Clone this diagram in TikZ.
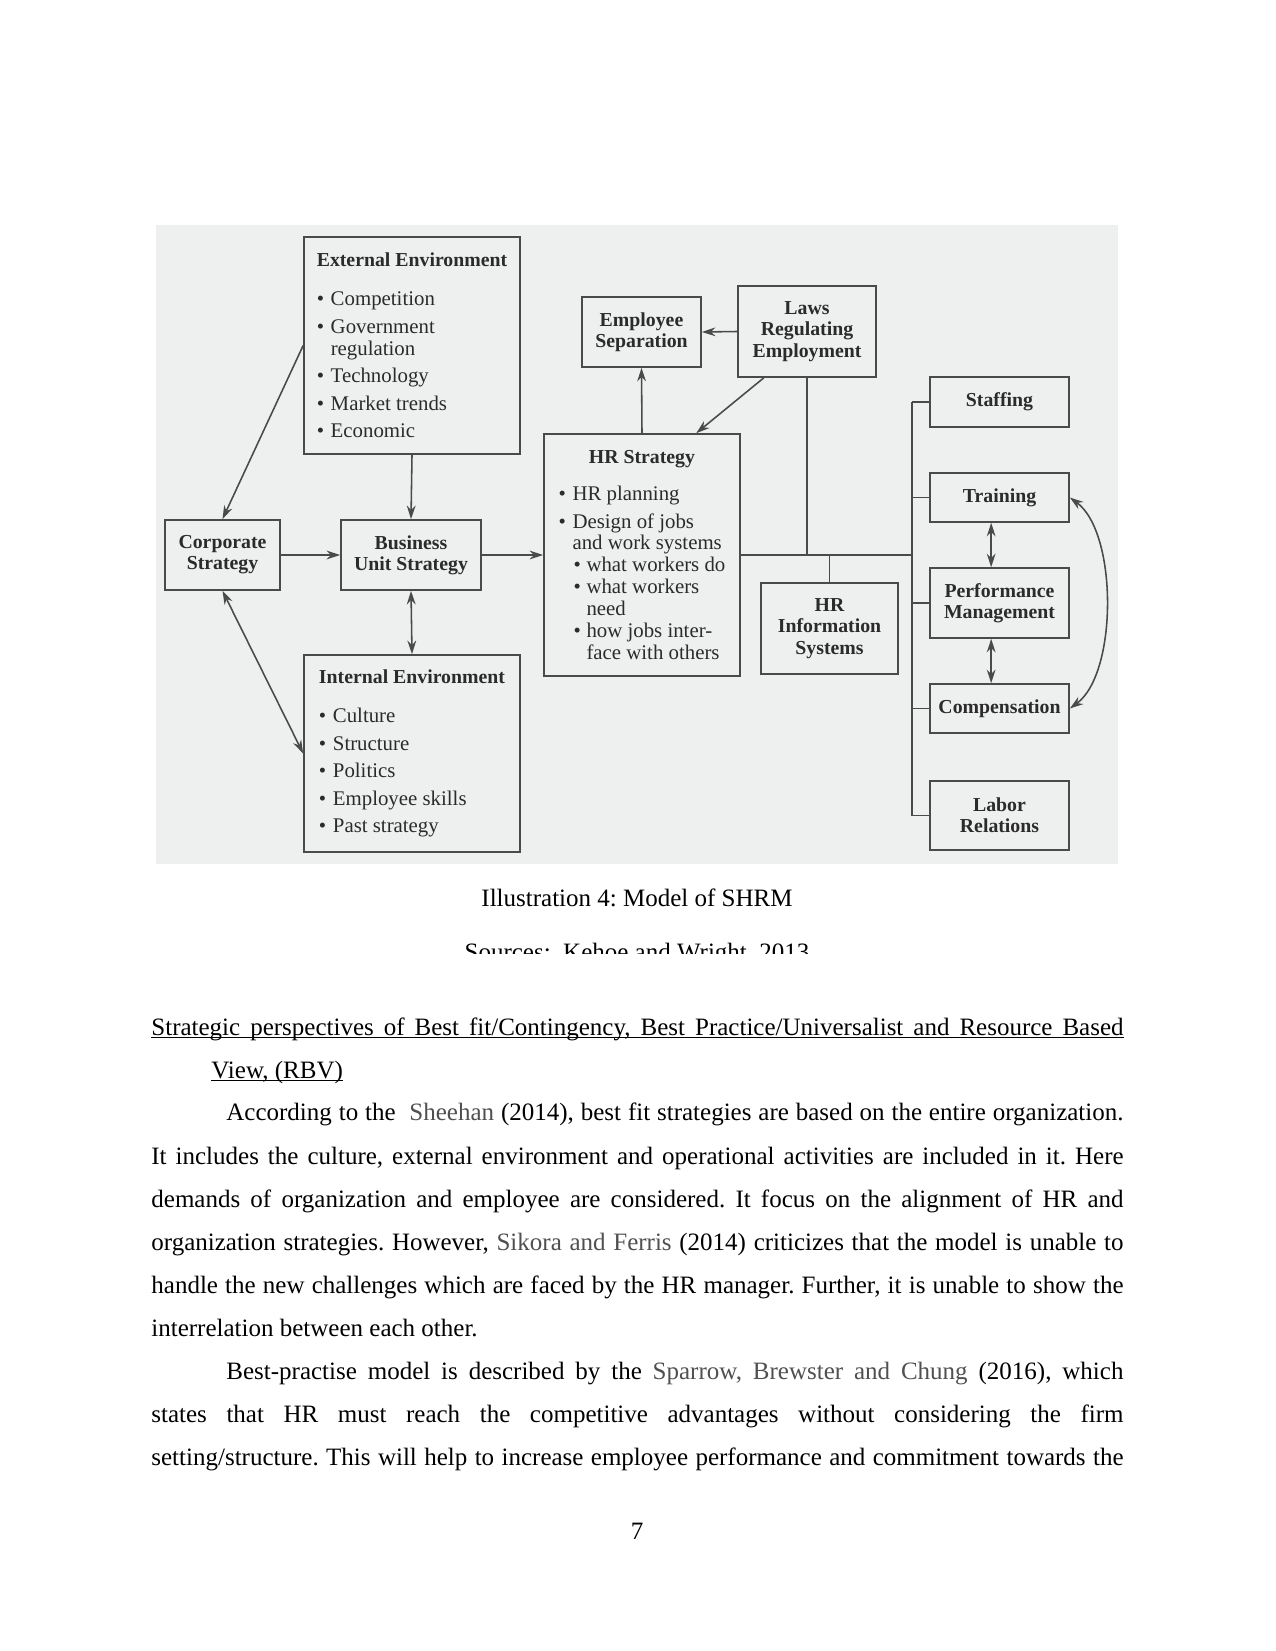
\documentclass[tikz,border=0pt]{standalone}
\usepackage{fontspec}
\setmainfont{Liberation Serif}
\usetikzlibrary{arrows.meta}
\definecolor{lncol}{HTML}{4A4A4A}
\definecolor{txtcol}{HTML}{2B2B2B}
\definecolor{bgcol}{HTML}{EEEFEF}
\definecolor{citecol}{HTML}{505050}
\newcommand{\pxu}{0.48pt}
\newcommand{\bul}{\makebox[6.7pt][l]{\textbullet}}
\newcommand{\sbul}{\hspace*{7.2pt}\makebox[6.2pt][l]{\textbullet}}
\newcommand{\ttl}[1]{{\fontsize{9.5}{10.5}\selectfont\bfseries #1}}
\newcommand{\ulx}[1]{\setbox0\hbox{#1}\rlap{\rule[-1.6pt]{\wd0}{0.55pt}}\box0}
\newcommand{\cit}[1]{{\color{citecol}#1}}
\frenchspacing

\begin{document}
\begin{tikzpicture}[x=0.48pt, y=-0.48pt, >={Stealth[length=6.5pt,width=4.2pt]},
  box/.style={draw=lncol, line width=0.8pt, inner sep=0pt, text=txtcol, align=center, font=\fontsize{9.5}{10.2}\selectfont\bfseries},
  lst/.style={box, align=left, font=\fontsize{10}{10.5}\selectfont},
  ln/.style={draw=lncol, line width=0.75pt},
  bodytxt/.style={anchor=base west, inner sep=0pt, font=\fontsize{12}{14}\selectfont},
  ctrtxt/.style={anchor=base, inner sep=0pt, font=\fontsize{12}{14}\selectfont}]
  \useasboundingbox (0,0) rectangle (1275,1651);
  \fill[bgcol] (156,225) rectangle (1118,864);

  % environment and strategy boxes
  \node[lst, minimum width=216*\pxu, minimum height=217*\pxu] (ext) at (412,345.5) {\ttl{External Environment}\\[8.2pt]\bul Competition\\[2.7pt]\bul Government\\\hspace*{6.7pt}regulation\\[2.7pt]\bul Technology\\[2.7pt]\bul Market trends\\[2.7pt]\bul Economic};
  \node[box, minimum width=115*\pxu, minimum height=70*\pxu] (corp) at (222.5,555) {Corporate\\Strategy};
  \node[box, minimum width=140*\pxu, minimum height=70*\pxu] (bus) at (411,555) {Business\\Unit Strategy};
  \node[lst, minimum width=216*\pxu, minimum height=197*\pxu] (int) at (412,753.5) {\ttl{Internal Environment}\\[8.2pt]\bul Culture\\[2.7pt]\bul Structure\\[2.7pt]\bul Politics\\[2.7pt]\bul Employee skills\\[2.7pt]\bul Past strategy};

  % HR boxes
  \node[box, minimum width=119*\pxu, minimum height=70*\pxu] (emp) at (641.5,332) {Employee\\Separation};
  \node[box, minimum width=138*\pxu, minimum height=91*\pxu] (law) at (807,331.5) {Laws\\Regulating\\Employment};
  \node[lst, minimum width=196*\pxu, minimum height=242*\pxu] (hrs) at (642,555) {\makebox[80pt]{\ttl{HR Strategy}}\\[7.3pt]\bul HR planning\\[2.7pt]\bul Design of jobs\\\hspace*{6.7pt}and work systems\\\sbul what workers do\\\sbul what workers\\\hspace*{13.4pt}need\\\sbul how jobs inter-\\\hspace*{13.4pt}face with others};
  \node[box, minimum width=137*\pxu, minimum height=91*\pxu] (his) at (829.5,628.5) {HR\\Information\\Systems};

  % HR practices
  \node[box, minimum width=139*\pxu, minimum height=50*\pxu] (stf) at (999.5,402) {Staffing};
  \node[box, minimum width=139*\pxu, minimum height=49*\pxu] (trn) at (999.5,497.5) {Training};
  \node[box, minimum width=139*\pxu, minimum height=70*\pxu] (prf) at (999.5,603) {Performance\\Management};
  \node[box, minimum width=139*\pxu, minimum height=49*\pxu] (cmp) at (999.5,708.5) {Compensation};
  \node[box, minimum width=139*\pxu, minimum height=69*\pxu] (lab) at (999.5,815.5) {Labor\\Relations};

  % connectors
  \draw[ln,->] (ext.west) -- (corp.north);
  \draw[ln,->] (ext.south) -- (bus.north);
  \draw[ln,->] (corp.east) -- (bus.west);
  \draw[ln,<->] (corp.south) -- (int.west);
  \draw[ln,<->] (bus.south) -- (int.north);
  \draw[ln,->] (bus.east) -- (hrs.west);
  \draw[ln,->] (hrs.north) -- (emp.south);
  \draw[ln,->] (law.west) -- (emp.east);
  \draw[ln,->] (law.-133) -- (hrs.66);
  \draw[ln] (law.south) -- (law.south |- hrs.east);
  \draw[ln] (his.north) -- (his.north |- hrs.east);
  \coordinate (bt) at (912,402);
  \coordinate (bb) at (912,816);
  \draw[ln] (hrs.east) -- (hrs.east -| bt);
  \draw[ln] (bt) -- (bb);
  \draw[ln] (stf.west) -- (stf.west -| bt);
  \draw[ln] (trn.west) -- (trn.west -| bt);
  \draw[ln] (prf.west) -- (prf.west -| bt);
  \draw[ln] (cmp.west) -- (cmp.west -| bt);
  \draw[ln] (lab.west) -- (lab.west -| bt);
  \draw[ln,<->] ([xshift=-4pt]trn.south) -- ([xshift=-4pt]prf.north);
  \draw[ln,<->] ([xshift=-4pt]prf.south) -- ([xshift=-4pt]cmp.north);
  \draw[ln,<->] (trn.east) .. controls +(48,35) and +(48,-35) .. (cmp.east);

  % page text
  \node[ctrtxt] (cap) at (637,906) {Illustration 4: Model of SHRM};
  \begin{scope}
    \clip (400,930) rectangle (880,953);
    \node[ctrtxt] (src) at (637,960) {Sources:\ \ Kehoe and Wright, 2013};
  \end{scope}
  \node[bodytxt] (hd1) at (151,1035) {\ulx{\makebox[466.6pt][s]{Strategic perspectives of Best fit/Contingency, Best Practice/Universalist and Resource Based}}};
  \node[bodytxt] (hd2) at (211,1078) {\ulx{View, (RBV)}};
  \node[bodytxt] (p1) at (226,1120) {\makebox[430.6pt][s]{According to the\ \ \cit{Sheehan} (2014), best fit strategies are based on the entire organization.}};
  \node[bodytxt] (p2) at (151,1164) {\makebox[466.6pt][s]{It includes the culture, external environment and operational activities are included in it. Here}};
  \node[bodytxt] (p3) at (151,1207) {\makebox[466.6pt][s]{demands of organization and employee are considered. It focus on the alignment of HR and}};
  \node[bodytxt] (p4) at (151,1250) {\makebox[466.6pt][s]{organization strategies. However, \cit{Sikora and Ferris} (2014) criticizes that the model is unable to}};
  \node[bodytxt] (p5) at (151,1293) {\makebox[466.6pt][s]{handle the new challenges which are faced by the HR manager. Further, it is unable to show the}};
  \node[bodytxt] (p6) at (151,1336) {interrelation between each other.};
  \node[bodytxt] (p7) at (226,1379) {\makebox[430.6pt][s]{Best-practise model is described by the \cit{Sparrow, Brewster and Chung} (2016), which}};
  \node[bodytxt] (p8) at (151,1422) {\makebox[466.6pt][s]{states that HR must reach the competitive advantages without considering the firm}};
  \node[bodytxt] (p9) at (151,1465) {\makebox[466.6pt][s]{setting/structure. This will help to increase employee performance and commitment towards the}};
  \node[ctrtxt] (pg) at (637,1539) {7};
\end{tikzpicture}
\end{document}
